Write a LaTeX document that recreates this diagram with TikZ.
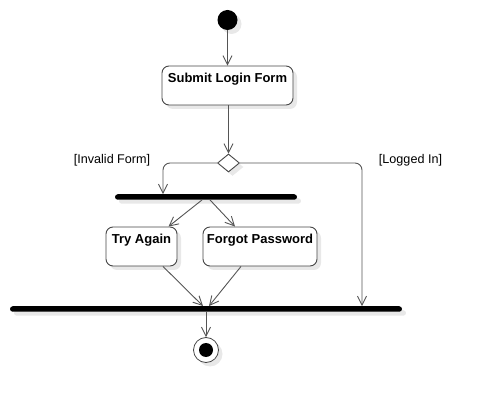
\documentclass[tikz,border=0pt]{standalone}
\usepackage{fontspec}
\setmainfont{Liberation Sans}
\usetikzlibrary{shapes.geometric, arrows.meta, shadows}
\definecolor{line-color}{RGB}{85,85,85}
\definecolor{edge-color}{RGB}{70,70,70}
\definecolor{shadow-gray}{RGB}{232,232,232}
\tikzset{
    flow/.style = {draw=line-color, line width=0.9pt, -{Straight Barb[length=9pt,width=9pt]}},
    soft-shadow/.style = {drop shadow={shadow xshift=4pt, shadow yshift=-4pt, fill=shadow-gray, opacity=1}},
    action/.style = {draw=edge-color, line width=0.9pt, rounded corners=7pt, fill=white, soft-shadow,
        font=\fontsize{13}{15}\selectfont\bfseries, inner xsep=0pt, inner ysep=3pt,
        text height=13.5pt, text depth=19.5pt, minimum height=39pt},
    bar/.style = {fill=black, rounded corners=2.75pt, minimum height=5.5pt, inner sep=0pt, soft-shadow},
    guard/.style = {font=\fontsize{12.6}{15}\selectfont}
}

\begin{document}
\begin{tikzpicture}[x=1pt, y=-1pt]
\useasboundingbox (0,0) rectangle (482,403);
\node (start) [circle, fill=black, minimum size=20pt, inner sep=0pt, soft-shadow] at (227.5,20) {};
\node (submit) [action, minimum width=131pt] at (227.5,85.5) {Submit Login Form};
\node (decide) [diamond, draw=edge-color, fill=white, line width=0.9pt, minimum width=22pt, minimum height=18pt, inner sep=0pt, soft-shadow] at (228.5,163) {};
\node (invalid) [guard] at (112,160.5) {[Invalid Form]};
\node (logged) [guard] at (410.5,160.5) {[Logged In]};

\node (fork) [bar, minimum width=182pt] at (206,197) {};
\node (tryagain) [action, minimum width=71pt] at (141.5,246.5) {Try Again};
\node (forgot) [action, minimum width=114pt] at (260,246.5) {Forgot Password};

\node (join) [bar, minimum width=392pt] at (206,309) {};
\node (final) [circle, draw=edge-color, fill=white, line width=0.8pt, minimum size=25pt, inner sep=0pt, soft-shadow] at (206,350) {};
\node (final-dot) [circle, fill=black, minimum size=14pt, inner sep=0pt] at (final) {};

\draw[flow] (start) -- (submit);
\draw[flow] (submit.south -| decide.north) -- (decide.north);
\draw[flow, rounded corners=7pt] (decide.west) -| ([xshift=-43pt]fork.north);
\draw[flow, rounded corners=7pt] (decide.east) -| ([xshift=156pt]join.north);
\draw[flow] ([xshift=-4pt]fork.south) -- ([xshift=27pt]tryagain.north);
\draw[flow] ([xshift=4pt]fork.south) -- ([xshift=-25pt]forgot.north);
\draw[flow] ([xshift=21.5pt]tryagain.south) -- ([xshift=-3pt]join.north);
\draw[flow] ([xshift=-19pt]forgot.south) -- ([xshift=3pt]join.north);
\draw[flow] (join) -- (final);
\end{tikzpicture}
\end{document}
